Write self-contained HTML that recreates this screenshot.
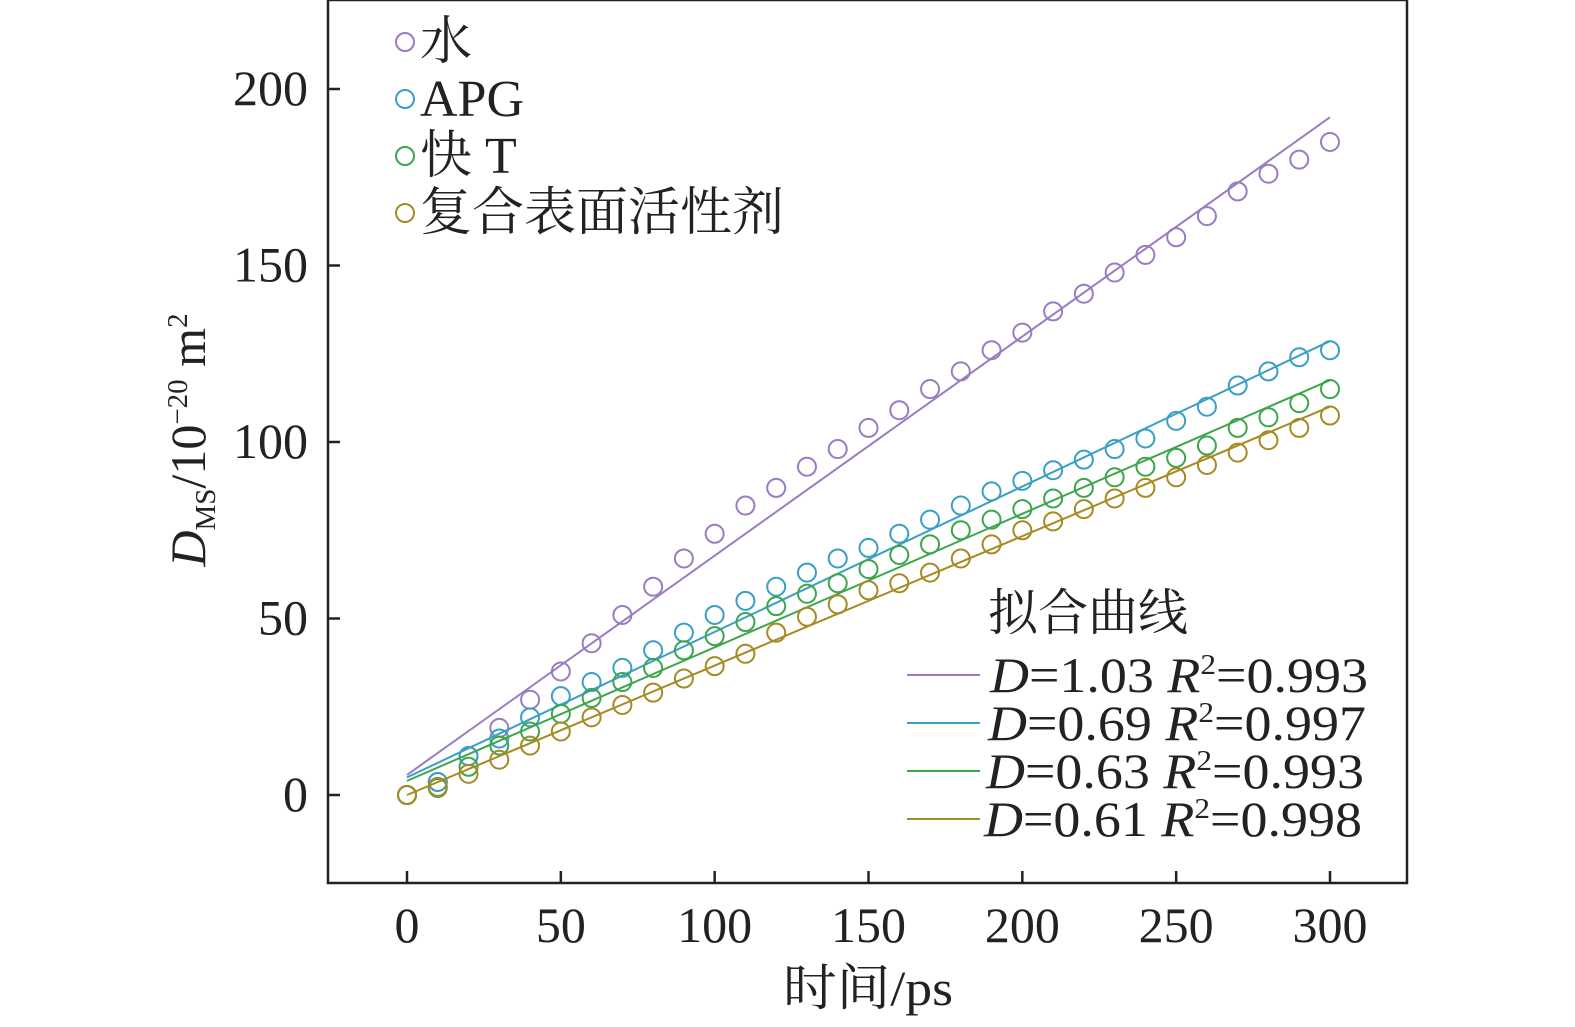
<!DOCTYPE html>
<html><head><meta charset="utf-8"><style>
html,body{margin:0;padding:0;background:#fff;}
svg{display:block;}
text{font-family:"Liberation Serif","Noto Serif CJK SC","Noto Sans CJK SC",serif;fill:#222;}
</style></head><body>
<svg id="chart" width="1575" height="1027" viewBox="0 0 1575 1027">
<rect x="328" y="0" width="1079" height="883" fill="none" stroke="#222" stroke-width="2.5"/>
<g id="axes"></g><g id="series"></g>
<text x="868" y="1005" font-size="50" text-anchor="middle" textLength="170" lengthAdjust="spacingAndGlyphs">时间/ps</text>
<text transform="translate(205,440) rotate(-90)" font-size="50" text-anchor="middle"><tspan font-style="italic">D</tspan><tspan font-size="29" dy="10">MS</tspan><tspan dy="-10">/10</tspan><tspan font-size="29" dy="-18">−20</tspan><tspan dy="18"> m</tspan><tspan font-size="29" dy="-18">2</tspan></text>
<g id="legend"></g>
<text x="988" y="630" font-size="50">拟合曲线</text>
<g id="fitlegend"></g>
</svg>
<script>
const ns="http://www.w3.org/2000/svg";
const times=[0,10,20,30,40,50,60,70,80,90,100,110,120,130,140,150,160,170,180,190,200,210,220,230,240,250,260,270,280,290,300];
const seriesNames=["水","APG","快 T","复合表面活性剂"];
const water=[0,3.7,11,19,27,35,43,51,59,67,74,82,87,93,98,104,109,115,120,126,131,137,142,148,153,158,164,171,176,180,185];
const apg=[0,3.7,11,16,22,28,32,36,41,46,51,55,59,63,67,70,74,78,82,86,89,92,95,98,101,106,110,116,120,124,126];
const kuaiT=[0,2,8,14,18,23,27.5,32,36,41,45,49,53.5,57,60,64,68,71,75,78,81,84,87,90,93,95.5,99,104,107,111,115];
const compound=[0,2.3,6,10,14,18,22,25.5,29,33,36.5,40,46,50.5,54,58,60,63,67,71,75,77.5,81,84,87,90,93.5,97,100.5,104,107.5];
const fitStart=[5.7,5,4,0];
const fitEnd=[192,128.6,117.5,110];
const fitLabels=["1.03","0.69","0.63","0.61"];
const r2Labels=["0.993","0.997","0.993","0.998"];
const xTicks=[0,50,100,150,200,250,300];
const yTicks=[0,50,100,150,200];
const colors=["#9a7cc2","#3a9fc4","#3da64c","#a68a22"];
const X=v=>407+v*(1330-407)/300;
const Y=v=>795-v*(795-89)/200;
function mk(t,a,p){const e=document.createElementNS(ns,t);for(const k in a)e.setAttribute(k,a[k]);(p||document.getElementById('series')).appendChild(e);return e;}
const ax=document.getElementById('axes');
xTicks.forEach(v=>{
 const l=mk('line',{x1:X(v),x2:X(v),y1:883,y2:871,stroke:'#222','stroke-width':2.5},ax);
 
 
 const t=mk('text',{x:X(v),y:942,'font-size':50,'text-anchor':'middle'},ax);t.textContent=v;
 
 
});
yTicks.forEach(v=>{
 const l=mk('line',{x1:328,x2:340,y1:Y(v),y2:Y(v),stroke:'#222','stroke-width':2.5},ax);
 
 
 const t=mk('text',{x:308,y:Y(v)+16,'font-size':50,'text-anchor':'end'},ax);t.textContent=v;
 
 
});
const all=[water,apg,kuaiT,compound];
all.forEach((s,i)=>{
 const ln=mk('line',{x1:X(0),y1:Y(fitStart[i]),x2:X(300),y2:Y(fitEnd[i]),stroke:colors[i],'stroke-width':2});
 
 
 s.forEach((v,j)=>{
  const c=mk('circle',{cx:X(times[j]),cy:Y(v),r:9,fill:'none',stroke:colors[i],'stroke-width':2});
  
  
 });
});
const lg=document.getElementById('legend');
seriesNames.forEach((n,i)=>{
 const y=42+i*57;
 const c=mk('circle',{cx:405,cy:y,r:9,fill:'none',stroke:colors[i],'stroke-width':2},lg);
 
 
 const t=mk('text',{x:420,y:y+17,'font-size':52},lg);t.textContent=n;
 
 
});
const fl=document.getElementById('fitlegend');
fitLabels.forEach((d,i)=>{
 const y=675+i*48;
 const l=mk('line',{x1:907,x2:980,y1:y,y2:y,stroke:colors[i],'stroke-width':2},fl);
 
 
 const t=mk('text',{x:990-i*2,y:y+17,'font-size':50,textLength:378,lengthAdjust:'spacingAndGlyphs'},fl);
 
 
 t.innerHTML='<tspan font-style="italic">D</tspan>='+d+' <tspan font-style="italic">R</tspan><tspan font-size="29" dy="-18">2</tspan><tspan dy="18">='+r2Labels[i]+'</tspan>';
});
</script>
</body></html>
